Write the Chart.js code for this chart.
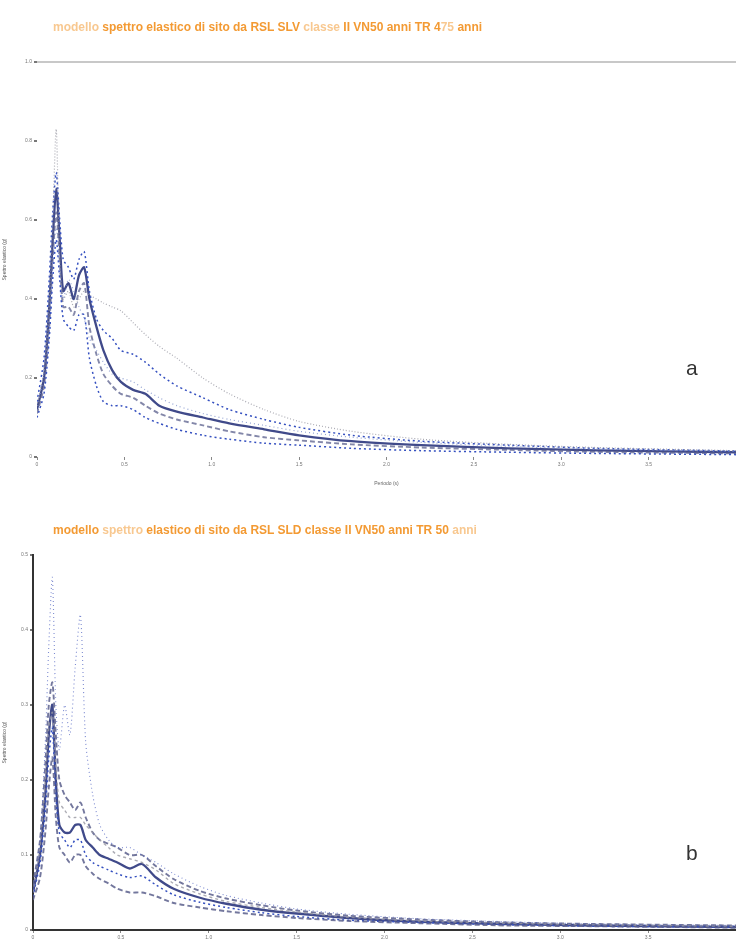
<!DOCTYPE html>
<html lang="it">
<head>
<meta charset="utf-8">
<title>Spettri elastici di sito</title>
<script src="https://cdn.jsdelivr.net/npm/chart.js@4.4.1/dist/chart.umd.min.js"></script>
<style>
  html, body { margin: 0; padding: 0; background: #fff; }
  body { width: 736px; height: 946px; position: relative; overflow: hidden; font-family: Arial, "Liberation Sans", sans-serif; }
  .box { position: absolute; left: 0; width: 736px; }
  #box-a { top: 0; height: 490px; }
  #box-b { top: 490px; height: 456px; }
  .title { position: absolute; left: 53px; font-size: 12px; font-weight: bold; color: #f39a33; white-space: nowrap; }
  .title .pale { color: #f8c890; }
  .tag { position: absolute; left: 686px; font-size: 21px; color: #333; }
</style>
</head>
<body>
<div class="box" id="box-a"><canvas id="chart-a"></canvas></div>
<div class="box" id="box-b"><canvas id="chart-b"></canvas></div>
<div class="title" style="top:20px"><span class="pale">modello</span> spettro elastico di sito da RSL SLV <span class="pale">classe</span> II VN50 anni TR 4<span class="pale">75</span> anni</div>
<div class="title" style="top:523px">modello <span class="pale">spettro</span> elastico di sito da RSL SLD classe II VN50 anni TR 50 <span class="pale">anni</span></div>
<div class="tag" style="top:356px">a</div>
<div class="tag" style="top:841px">b</div>

<script>
// Periods (s) shared by every spectrum
const periods = [0, 0.04, 0.07, 0.09, 0.11, 0.13, 0.15, 0.18, 0.21, 0.24, 0.27, 0.30, 0.34, 0.38, 0.43,
  0.48, 0.55, 0.62, 0.70, 0.80, 0.95, 1.1, 1.3, 1.5, 1.8, 2.2, 2.7, 3.2, 4.0];

// SLV - TR 475 anni (g)
const slvMean  = [0.12, 0.20, 0.38, 0.55, 0.68, 0.55, 0.42, 0.44, 0.40, 0.46, 0.48, 0.40, 0.33, 0.27, 0.22,
  0.19, 0.17, 0.16, 0.13, 0.115, 0.10, 0.085, 0.07, 0.055, 0.04, 0.03, 0.022, 0.017, 0.012];
const slvUpper = [0.14, 0.25, 0.45, 0.62, 0.72, 0.60, 0.50, 0.48, 0.45, 0.50, 0.52, 0.42, 0.35, 0.32, 0.30,
  0.27, 0.26, 0.24, 0.21, 0.18, 0.15, 0.12, 0.095, 0.075, 0.055, 0.04, 0.03, 0.022, 0.015];
const slvLower = [0.10, 0.16, 0.30, 0.45, 0.55, 0.45, 0.35, 0.33, 0.32, 0.36, 0.36, 0.25, 0.18, 0.14, 0.13,
  0.13, 0.12, 0.10, 0.085, 0.07, 0.055, 0.045, 0.035, 0.03, 0.022, 0.016, 0.012, 0.009, 0.006];
const slvEnvelope = [0.13, 0.22, 0.40, 0.60, 0.83, 0.50, 0.40, 0.42, 0.38, 0.40, 0.42, 0.41, 0.40, 0.39, 0.38,
  0.37, 0.34, 0.31, 0.28, 0.25, 0.20, 0.16, 0.12, 0.09, 0.065, 0.045, 0.032, 0.024, 0.016];
const slvRec1 = [0.11, 0.18, 0.33, 0.50, 0.62, 0.50, 0.38, 0.38, 0.36, 0.42, 0.44, 0.33, 0.26, 0.21, 0.18,
  0.16, 0.15, 0.13, 0.11, 0.095, 0.08, 0.065, 0.05, 0.042, 0.032, 0.024, 0.018, 0.013, 0.009];
const slvRec2 = [0.12, 0.21, 0.36, 0.50, 0.58, 0.48, 0.40, 0.45, 0.42, 0.38, 0.35, 0.30, 0.27, 0.24, 0.21,
  0.20, 0.19, 0.17, 0.15, 0.13, 0.11, 0.095, 0.08, 0.065, 0.05, 0.037, 0.027, 0.02, 0.014];

// SLD - TR 50 anni (g)
const sldMean  = [0.05, 0.10, 0.18, 0.26, 0.30, 0.20, 0.14, 0.13, 0.13, 0.14, 0.14, 0.12, 0.11, 0.10, 0.095,
  0.09, 0.082, 0.088, 0.07, 0.055, 0.043, 0.035, 0.027, 0.022, 0.016, 0.011, 0.008, 0.006, 0.004];
const sldUpper = [0.06, 0.12, 0.22, 0.30, 0.33, 0.26, 0.20, 0.18, 0.17, 0.16, 0.17, 0.15, 0.13, 0.12, 0.115,
  0.11, 0.10, 0.10, 0.085, 0.068, 0.052, 0.042, 0.033, 0.026, 0.019, 0.014, 0.01, 0.008, 0.006];
const sldLower = [0.04, 0.07, 0.13, 0.19, 0.23, 0.15, 0.11, 0.10, 0.09, 0.10, 0.10, 0.085, 0.075, 0.068, 0.062,
  0.055, 0.05, 0.05, 0.045, 0.036, 0.03, 0.025, 0.02, 0.016, 0.012, 0.009, 0.006, 0.005, 0.003];
const sldEnvelope = [0.05, 0.12, 0.25, 0.38, 0.47, 0.30, 0.24, 0.30, 0.26, 0.35, 0.42, 0.25, 0.18, 0.14, 0.12,
  0.11, 0.11, 0.10, 0.09, 0.075, 0.058, 0.046, 0.036, 0.028, 0.021, 0.015, 0.011, 0.008, 0.006];
const sldRec1 = [0.045, 0.09, 0.16, 0.23, 0.27, 0.18, 0.13, 0.12, 0.11, 0.12, 0.12, 0.10, 0.09, 0.085, 0.08,
  0.075, 0.07, 0.072, 0.06, 0.047, 0.037, 0.03, 0.023, 0.018, 0.013, 0.01, 0.007, 0.005, 0.004];
const sldRec2 = [0.05, 0.11, 0.20, 0.27, 0.29, 0.22, 0.17, 0.16, 0.15, 0.15, 0.15, 0.14, 0.13, 0.12, 0.11,
  0.10, 0.095, 0.09, 0.08, 0.062, 0.048, 0.038, 0.03, 0.024, 0.017, 0.012, 0.009, 0.007, 0.005];

// labelled periods; the last one (4.0) sits on the page edge and is left unlabelled
const periodTicks = [0, 0.5, 1, 1.5, 2, 2.5, 3, 3.5];

function pts(values) {
  return periods.map((t, i) => ({ x: t, y: values[i] }));
}

function line(label, values, color, width, dash) {
  return {
    label,
    data: pts(values),
    borderColor: color,
    borderWidth: width,
    borderDash: dash,
    pointRadius: 0,
    tension: 0.25,
    fill: false
  };
}

function makeChart(id, opts) {
  const tiny = { size: 5, family: 'Arial' };
  return new Chart(document.getElementById(id), {
    type: 'line',
    data: { datasets: opts.datasets },
    options: {
      responsive: true,
      maintainAspectRatio: false,
      animation: false,
      layout: { padding: { top: opts.topPad, right: 0, bottom: opts.bottomPad, left: 0 } },
      plugins: {
        legend: { display: false },
        tooltip: { enabled: false },
        title: { display: false }
      },
      scales: {
        x: {
          type: 'linear',
          min: 0,
          max: 4,
          afterBuildTicks: s => { s.ticks = periodTicks.map(v => ({ value: v })); },
          afterFit: s => { s.height = opts.xHeight; },
          title: { display: opts.xTitle, text: 'Periodo (s)', color: '#666', font: tiny, padding: 0 },
          ticks: { color: '#777', font: tiny, maxRotation: 0, padding: 2 },
          grid: { display: true, drawOnChartArea: false, color: '#888', tickLength: 3 },
          border: { display: opts.axisLine, color: '#333', width: 2 }
        },
        y: {
          min: 0,
          max: opts.yMax,
          ticks: { stepSize: opts.yStep, color: '#777', font: tiny, padding: 2 },
          afterFit: s => { s.width = opts.yWidth; },
          title: { display: true, text: opts.yTitle, color: '#555', font: tiny, padding: 2 },
          grid: {
            drawOnChartArea: opts.topRule,
            color: c => (c.tick && c.tick.value === opts.yMax) ? '#c8c8c8' : 'rgba(0,0,0,0)',
            tickColor: '#777',
            tickLength: 3,
            lineWidth: 2
          },
          border: { display: opts.axisLine, color: '#333', width: 2 }
        }
      }
    }
  });
}

makeChart('chart-a', {
  topPad: 62,
  yMax: 1.0, yStep: 0.2, yWidth: 37, xHeight: 30, bottomPad: 3,
  yTitle: 'Spettro elastico (g)', xTitle: true, axisLine: false, topRule: true,
  datasets: [
    line('envelope', slvEnvelope, 'rgba(150,150,160,0.8)', 1.2, [1, 2]),
    line('rec 2', slvRec2, 'rgba(120,140,200,0.8)', 1.2, [1, 3]),
    line('upper', slvUpper, '#3550c0', 1.5, [2, 3]),
    line('lower', slvLower, '#3550c0', 1.5, [2, 3]),
    line('rec 1', slvRec1, 'rgba(90,95,140,0.75)', 1.9, [5, 3]),
    line('media', slvMean, '#404a8a', 2.3, [])
  ]
});

makeChart('chart-b', {
  topPad: 65,
  yMax: 0.5, yStep: 0.1, yWidth: 33, xHeight: 16, bottomPad: 0,
  yTitle: 'Spettro elastico (g)', xTitle: false, axisLine: true, topRule: false,
  datasets: [
    line('envelope', sldEnvelope, 'rgba(70,90,190,0.7)', 1.1, [1, 3]),
    line('rec 2', sldRec2, 'rgba(150,150,160,0.8)', 1.4, [3, 3]),
    line('upper', sldUpper, 'rgba(90,95,140,0.85)', 1.9, [5, 3]),
    line('lower', sldLower, 'rgba(90,95,140,0.85)', 1.9, [5, 3]),
    line('rec 1', sldRec1, '#3550c0', 1.5, [2, 3]),
    line('media', sldMean, '#404a8a', 2.3, [])
  ]
});
</script>
</body>
</html>
